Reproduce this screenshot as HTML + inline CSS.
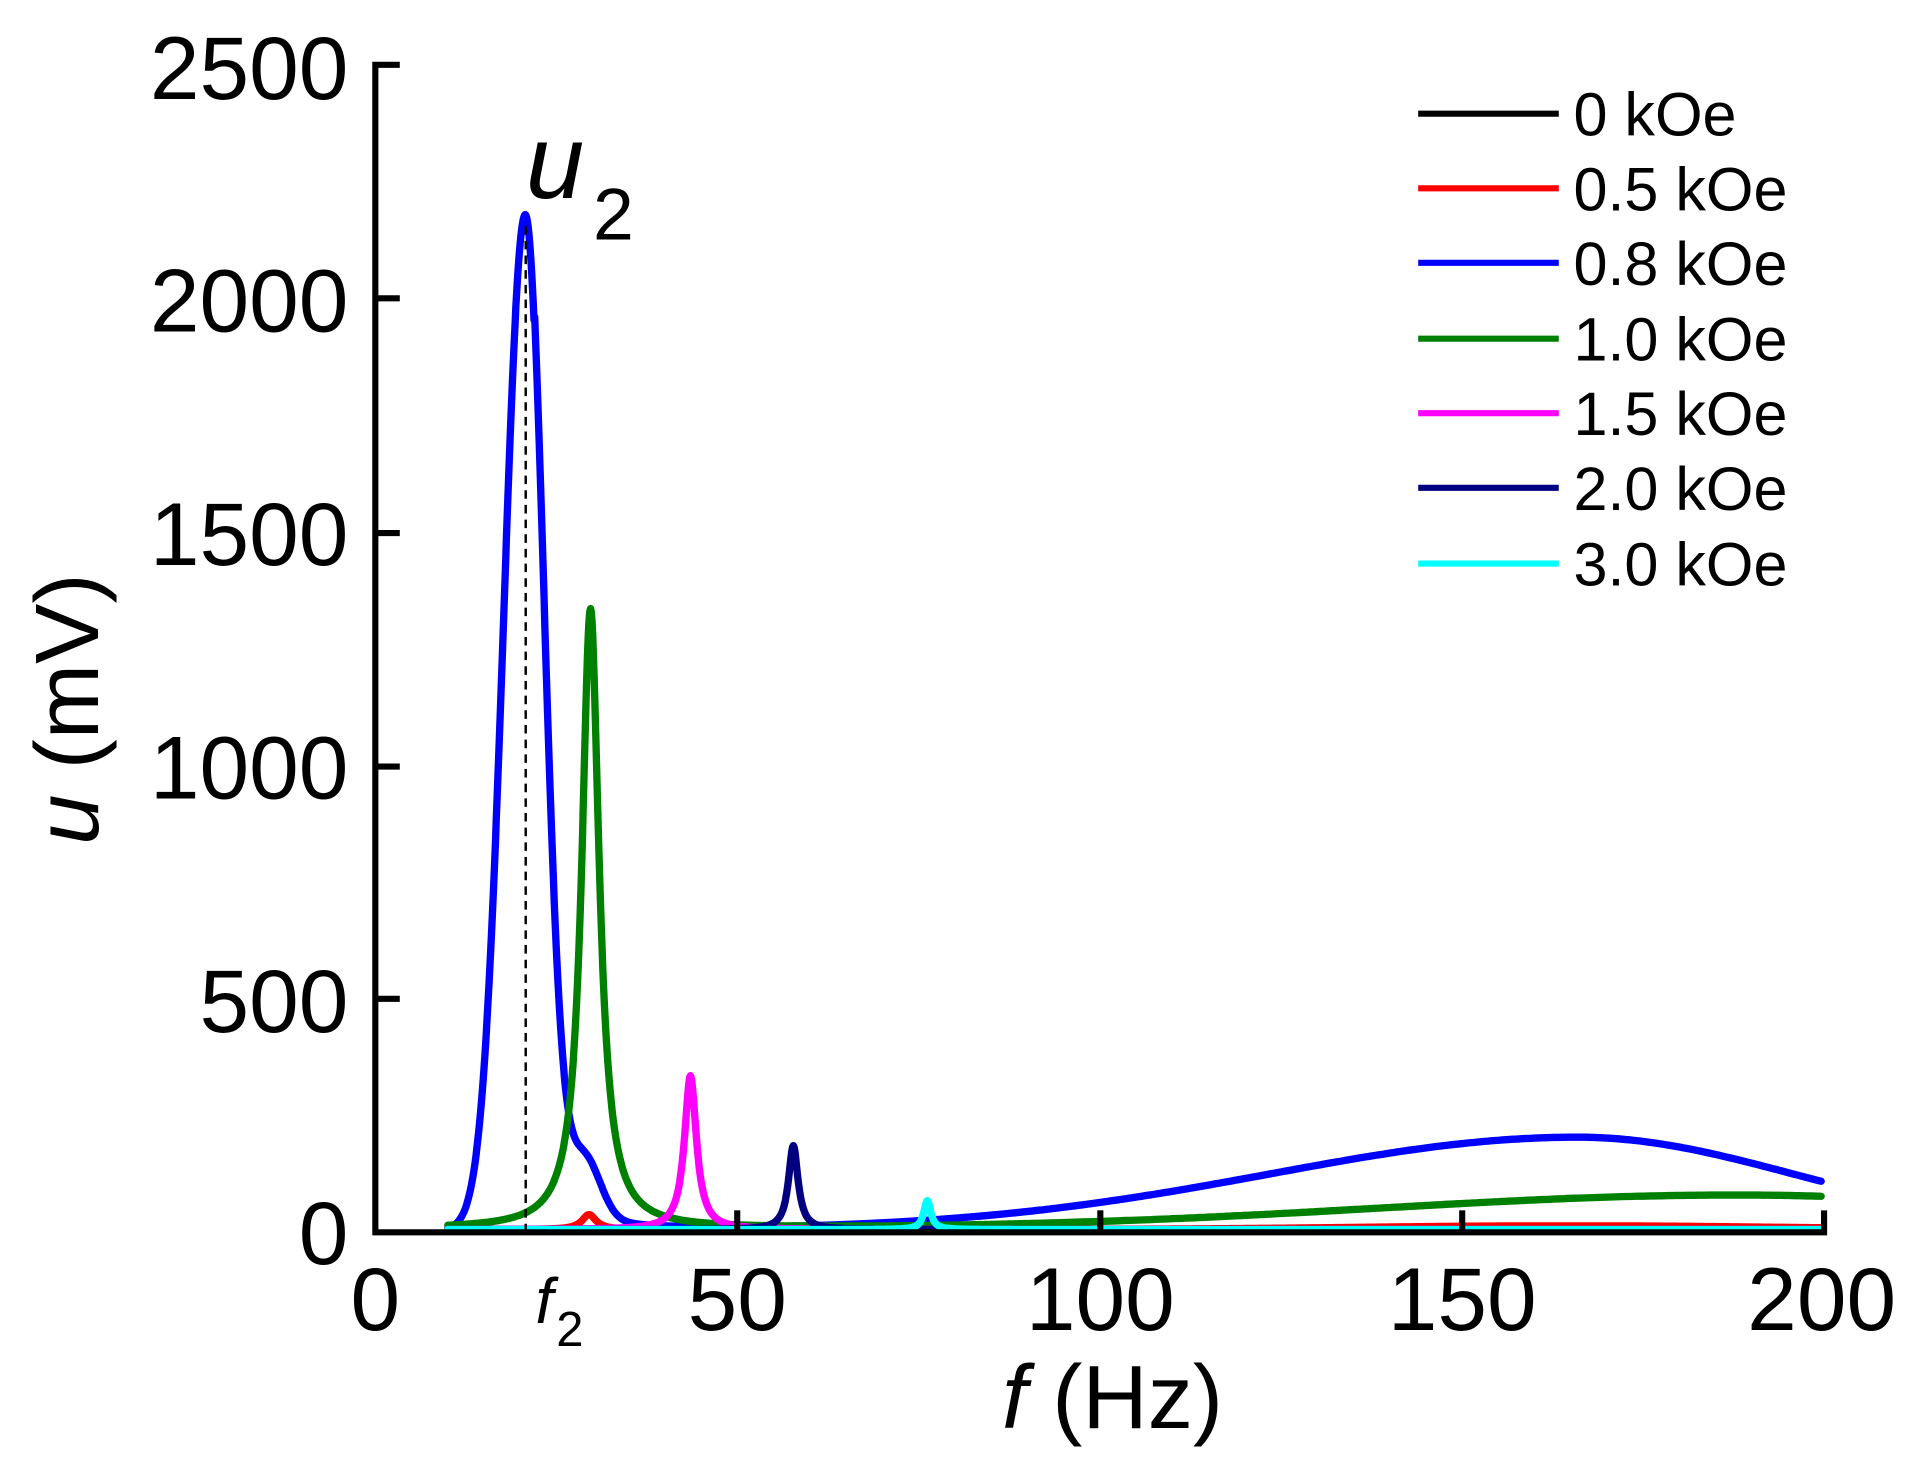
<!DOCTYPE html>
<html><head><meta charset="utf-8"><style>
html,body{margin:0;padding:0;background:#fff;}
svg{display:block;}
text{font-family:"Liberation Sans",Arial,sans-serif;fill:#000;}
</style></head><body>
<svg id="c" width="1917" height="1470" viewBox="0 0 1568 1202.4" preserveAspectRatio="none" xmlns="http://www.w3.org/2000/svg">
<g id="series" fill="none" stroke-width="6" stroke-linejoin="round" stroke-linecap="round"></g>
<line x1="430" y1="1008" x2="430" y2="185" stroke="#000" stroke-width="2" stroke-dasharray="7,5"/>
<path d="M327,53 L307,53 L307,1008 L1492,1008 L1492,990" fill="none" stroke="#000" stroke-width="5"/>
<g stroke="#000" stroke-width="5">
<line x1="307" y1="244" x2="327" y2="244"/>
<line x1="307" y1="436" x2="327" y2="436"/>
<line x1="307" y1="627" x2="327" y2="627"/>
<line x1="307" y1="817" x2="327" y2="817"/>
<line x1="603" y1="1008" x2="603" y2="990"/>
<line x1="900" y1="1008" x2="900" y2="990"/>
<line x1="1196" y1="1008" x2="1196" y2="990"/>
</g>
<g font-size="73" text-anchor="end">
<text x="285" y="81">2500</text>
<text x="285" y="271">2000</text>
<text x="285" y="462">1500</text>
<text x="285" y="653">1000</text>
<text x="285" y="844">500</text>
<text x="285" y="1034">0</text>
</g>
<g font-size="73" text-anchor="middle">
<text x="307" y="1088">0</text>
<text x="603" y="1088">50</text>
<text x="900" y="1088">100</text>
<text x="1196" y="1088">150</text>
<text x="1490" y="1088">200</text>
</g>
<text x="438" y="1082" font-size="52" font-style="italic">f</text>
<text x="455" y="1101" font-size="40">2</text>
<text x="430" y="162" font-size="86" font-style="italic">u</text>
<text x="485" y="196" font-size="60">2</text>
<text x="910" y="1168" font-size="74" text-anchor="middle"><tspan font-style="italic">f</tspan> (Hz)</text>
<text transform="translate(80,580) rotate(-90)" font-size="74" text-anchor="middle"><tspan font-style="italic">u</tspan> (mV)</text>
<g stroke-width="5">
<line x1="1160" y1="93" x2="1275" y2="93" stroke="#000"/>
<line x1="1160" y1="154" x2="1275" y2="154" stroke="#ff0000"/>
<line x1="1160" y1="215" x2="1275" y2="215" stroke="#0000ff"/>
<line x1="1160" y1="277" x2="1275" y2="277" stroke="#008000"/>
<line x1="1160" y1="338" x2="1275" y2="338" stroke="#ff00ff"/>
<line x1="1160" y1="399" x2="1275" y2="399" stroke="#000080"/>
<line x1="1160" y1="461" x2="1275" y2="461" stroke="#00ffff"/>
</g>
<g font-size="50">
<text x="1287" y="111">0 kOe</text>
<text x="1287" y="172">0.5 kOe</text>
<text x="1287" y="233">0.8 kOe</text>
<text x="1287" y="295">1.0 kOe</text>
<text x="1287" y="356">1.5 kOe</text>
<text x="1287" y="417">2.0 kOe</text>
<text x="1287" y="479">3.0 kOe</text>
</g>
</svg>
<script>
(function(){
function X(f){return 307+f*5.925;}
function Y(u){return 1008-u*0.3812;}
function L(f,A,f0,w){var d=(f-f0)/w;return A/(1+d*d);}
function G(f,A,f0,wl,wr){var w=f<f0?wl:wr;var d=(f-f0)/w;return A*Math.exp(-d*d);}
var defs=[
 ["#000",function(f){return 6;}],
 ["#ff0000",function(f){return 6+L(f,32,29.5,1.2)+G(f,8,165,40,40);}],
 ["#0000ff",function(f){return 4+G(f,2170,20.7,4.2,3.6)+G(f,120,29,3,3)+L(f,60,24,6)*(f>22?1:0.2)+G(f,200,166,60,42);}],
 ["#008000",function(f){return 8+L(f,1330,29.7,1.45)+G(f,72,188,70,60);}],
 ["#ff00ff",function(f){return 6+L(f,330,43.5,1.0);}],
 ["#000080",function(f){return 6+L(f,180,57.7,0.8);}],
 ["#00ffff",function(f){return 6+L(f,62,76.2,0.6);}]
];
var g=document.getElementById('series');
defs.forEach(function(d){
 var s='';
 for(var f=10;f<=200.001;f+=(f<90?0.1:0.5)){
  var u=Math.max(0,d[1](f));
  s+=(s?'L':'M')+X(f).toFixed(1)+','+Y(u).toFixed(1);
 }
 var p=document.createElementNS('http://www.w3.org/2000/svg','path');
 p.setAttribute('d',s);p.setAttribute('stroke',d[0]);
 g.appendChild(p);
});
})();
</script>
</body></html>
